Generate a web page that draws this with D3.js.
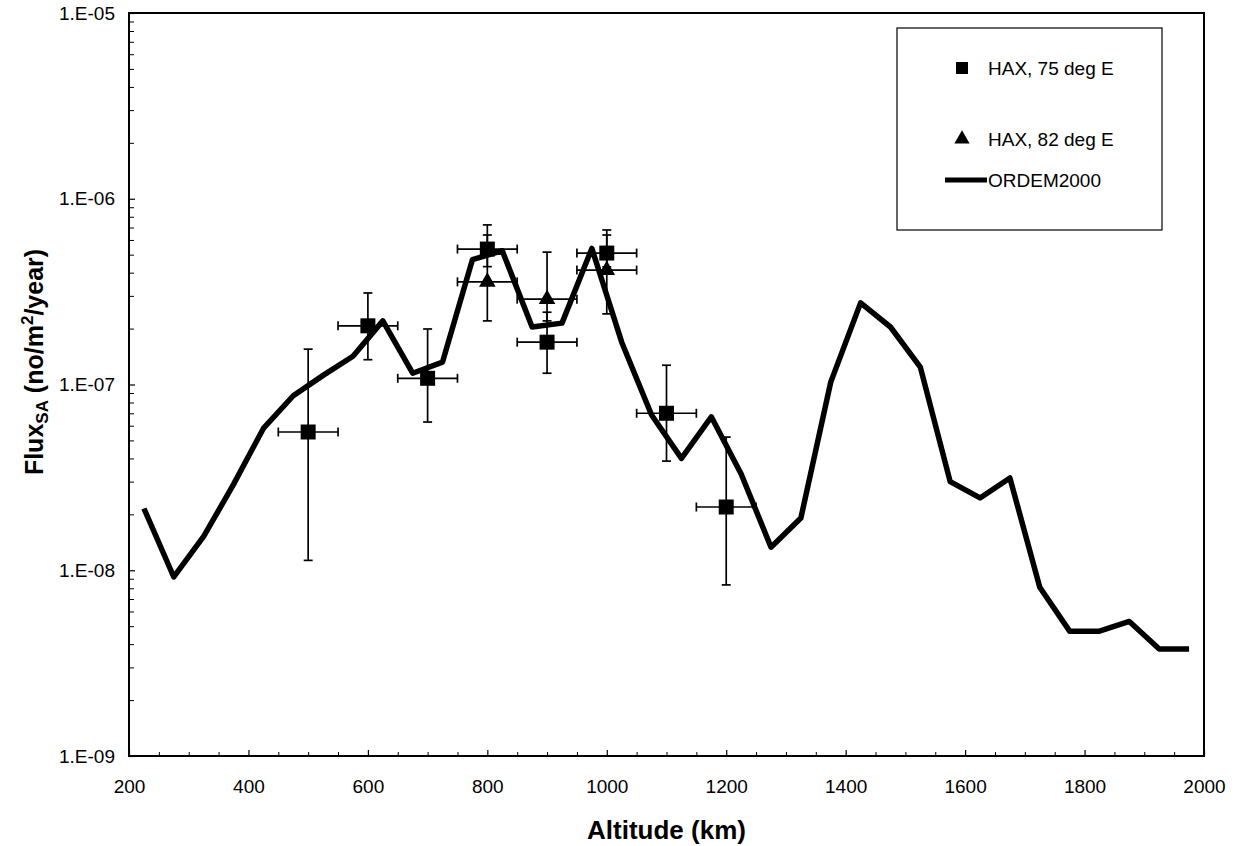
<!DOCTYPE html>
<html>
<head>
<meta charset="utf-8">
<script src="https://cdn.jsdelivr.net/npm/d3@7"></script>
<style>
  html, body { margin: 0; padding: 0; background: #fff; }
  svg { display: block; font-family: Arial, "Liberation Sans", Helvetica, sans-serif; }
</style>
</head>
<body>
<svg id="chart" width="1239" height="846"></svg>
<script>
// ORDEM2000 model flux, every 50 km
const ordemAltitude = [225, 275, 325, 375, 425, 475, 525, 575, 625, 675, 725, 775, 825, 875, 925, 975,
  1025, 1075, 1125, 1175, 1225, 1275, 1325, 1375, 1425, 1475, 1525, 1575, 1625, 1675, 1725, 1775,
  1825, 1875, 1925, 1975];
const ordemFlux = [2.15e-8, 9.2e-9, 1.52e-8, 2.9e-8, 5.8e-8, 8.7e-8, 1.12e-7, 1.42e-7, 2.2e-7, 1.15e-7,
  1.32e-7, 4.7e-7, 5.25e-7, 2.04e-7, 2.14e-7, 5.4e-7, 1.69e-7, 6.85e-8, 4.0e-8, 6.7e-8, 3.3e-8,
  1.33e-8, 1.91e-8, 1.03e-7, 2.75e-7, 2.04e-7, 1.24e-7, 3.0e-8, 2.45e-8, 3.14e-8, 8.1e-9, 4.7e-9,
  4.7e-9, 5.3e-9, 3.77e-9, 3.77e-9];

// HAX, 75 deg E measurements (squares) with error ranges
const hax75Altitude = [500, 600, 700, 800, 900, 1000, 1100, 1200];
const hax75Flux = [5.55e-8, 2.07e-7, 1.08e-7, 5.36e-7, 1.69e-7, 5.1e-7, 7.0e-8, 2.19e-8];
const hax75High = [1.55e-7, 3.11e-7, 1.99e-7, 7.23e-7, 2.45e-7, 6.79e-7, 1.27e-7, 5.21e-8];
const hax75Low = [1.13e-8, 1.36e-7, 6.28e-8, 4.31e-7, 1.15e-7, 4.3e-7, 3.87e-8, 8.34e-9];

// HAX, 82 deg E measurements (triangles) with error ranges
const hax82Altitude = [800, 900, 1000];
const hax82Flux = [3.57e-7, 2.88e-7, 4.13e-7];
const hax82High = [6.38e-7, 5.16e-7, 6.38e-7];
const hax82Low = [2.2e-7, 2.2e-7, 2.4e-7];

// altitude bin half-width (km)
const altitudeHalfBin = 50;

const xTicks = [200, 400, 600, 800, 1000, 1200, 1400, 1600, 1800, 2000];
const yTicks = [1e-9, 1e-8, 1e-7, 1e-6, 1e-5];
const yTickLabels = ["1.E-09", "1.E-08", "1.E-07", "1.E-06", "1.E-05"];

const legendLabels = ["HAX, 75 deg E", "HAX, 82 deg E", "ORDEM2000"];

const svg = d3.select("#chart");
const plotLeft = 129, plotRight = 1204, plotTop = 13, plotBottom = 756;

const x = d3.scaleLinear().domain([200, 2000]).range([plotLeft, plotRight]);
const y = d3.scaleLog().domain([1e-9, 1e-5]).range([plotBottom, plotTop]);

// minor tick positions
const xMinor = d3.range(250, 2000, 50).filter(v => v % 200 !== 0);
const yMinor = [];
[1e-9, 1e-8, 1e-7, 1e-6].forEach(d => { for (let k = 2; k <= 9; k++) yMinor.push(d * k); });

// minor ticks
svg.append("g").attr("transform", `translate(0,${plotBottom})`)
  .call(d3.axisBottom(x).tickValues(xMinor).tickSize(-4).tickFormat(""))
  .call(g => g.select(".domain").remove())
  .call(g => g.selectAll("line").attr("stroke", "#000").attr("stroke-width", 1));
svg.append("g").attr("transform", `translate(${plotLeft},0)`)
  .call(d3.axisLeft(y).tickValues(yMinor).tickSize(-5).tickFormat(""))
  .call(g => g.select(".domain").remove())
  .call(g => g.selectAll("line").attr("stroke", "#000").attr("stroke-width", 1));

// major axes with labels
svg.append("g").attr("transform", `translate(0,${plotBottom})`)
  .call(d3.axisBottom(x).tickValues(xTicks).tickSize(-6).tickPadding(24).tickFormat(d3.format("d")))
  .call(g => g.select(".domain").remove())
  .call(g => g.selectAll("line").attr("stroke", "#000").attr("stroke-width", 1.2))
  .call(g => g.selectAll("text").attr("fill", "#000").attr("font-size", 19));
svg.append("g").attr("transform", `translate(${plotLeft},0)`)
  .call(d3.axisLeft(y).tickValues(yTicks).tickSize(-6).tickPadding(14)
    .tickFormat((d, i) => yTickLabels[i]))
  .call(g => g.select(".domain").remove())
  .call(g => g.selectAll("line").attr("stroke", "#000").attr("stroke-width", 1.2))
  .call(g => g.selectAll("text").attr("fill", "#000").attr("font-size", 19));

// plot frame
svg.append("rect")
  .attr("x", plotLeft).attr("y", plotTop)
  .attr("width", plotRight - plotLeft).attr("height", plotBottom - plotTop)
  .attr("fill", "none").attr("stroke", "#000").attr("stroke-width", 2);

// ORDEM2000 line
const line = d3.line().x(d => x(d[0])).y(d => y(d[1]));
svg.append("path")
  .datum(ordemAltitude.map((a, i) => [a, ordemFlux[i]]))
  .attr("d", line)
  .attr("fill", "none").attr("stroke", "#000").attr("stroke-width", 5.5)
  .attr("stroke-linejoin", "round");

// error bars
function errorBars(alts, vals, highs, lows) {
  const g = svg.append("g").attr("stroke", "#000").attr("stroke-width", 1.7).attr("fill", "none");
  const cap = 4.5;
  alts.forEach((a, i) => {
    const cx = x(a), cy = y(vals[i]);
    const yh = y(highs[i]), yl = y(lows[i]);
    const xl = x(a - altitudeHalfBin), xr = x(a + altitudeHalfBin);
    g.append("line").attr("x1", cx).attr("x2", cx).attr("y1", yh).attr("y2", yl);
    g.append("line").attr("x1", cx - cap).attr("x2", cx + cap).attr("y1", yh).attr("y2", yh);
    g.append("line").attr("x1", cx - cap).attr("x2", cx + cap).attr("y1", yl).attr("y2", yl);
    g.append("line").attr("x1", xl).attr("x2", xr).attr("y1", cy).attr("y2", cy);
    g.append("line").attr("x1", xl).attr("x2", xl).attr("y1", cy - cap).attr("y2", cy + cap);
    g.append("line").attr("x1", xr).attr("x2", xr).attr("y1", cy - cap).attr("y2", cy + cap);
  });
}
errorBars(hax75Altitude, hax75Flux, hax75High, hax75Low);
errorBars(hax82Altitude, hax82Flux, hax82High, hax82Low);

// markers
const square = d3.symbol().type(d3.symbolSquare).size(225);
const triangle = d3.symbol().type(d3.symbolTriangle).size(120);
svg.append("g").selectAll("path")
  .data(hax75Altitude.map((a, i) => [a, hax75Flux[i]]))
  .join("path")
  .attr("transform", d => `translate(${x(d[0])},${y(d[1])})`)
  .attr("d", square).attr("fill", "#000");
svg.append("g").selectAll("path")
  .data(hax82Altitude.map((a, i) => [a, hax82Flux[i]]))
  .join("path")
  .attr("transform", d => `translate(${x(d[0])},${y(d[1])})`)
  .attr("d", triangle).attr("fill", "#000");

// legend
const lg = svg.append("g").attr("transform", "translate(897,28)");
lg.append("rect").attr("width", 265).attr("height", 202)
  .attr("fill", "#fff").attr("stroke", "#000").attr("stroke-width", 1.2);
lg.append("path").attr("transform", "translate(65,40)")
  .attr("d", d3.symbol().type(d3.symbolSquare).size(144)).attr("fill", "#000");
lg.append("path").attr("transform", "translate(65,111)")
  .attr("d", d3.symbol().type(d3.symbolTriangle).size(100)).attr("fill", "#000");
lg.append("line").attr("x1", 48).attr("x2", 90).attr("y1", 152).attr("y2", 152)
  .attr("stroke", "#000").attr("stroke-width", 5);
const legendY = [40, 111, 152];
const legendX = [91, 91, 91];
legendLabels.forEach((t, i) => {
  lg.append("text").attr("x", legendX[i]).attr("y", legendY[i]).attr("dy", "0.35em")
    .attr("font-size", 19).attr("fill", "#000").text(t);
});

// axis titles
svg.append("text")
  .attr("x", (plotLeft + plotRight) / 2).attr("y", 839)
  .attr("text-anchor", "middle").attr("font-size", 26).attr("font-weight", "bold")
  .text("Altitude (km)");

const yt = svg.append("text")
  .attr("transform", "translate(43,362) rotate(-90)")
  .attr("text-anchor", "middle").attr("font-size", 25).attr("font-weight", "bold");
yt.append("tspan").text("Flux");
yt.append("tspan").attr("font-size", 17).attr("dy", 5).text("SA");
yt.append("tspan").attr("dy", -5).text(" (no/m");
yt.append("tspan").attr("font-size", 17).attr("dy", -10).text("2");
yt.append("tspan").attr("dy", 10).text("/year)");
</script>
</body>
</html>
